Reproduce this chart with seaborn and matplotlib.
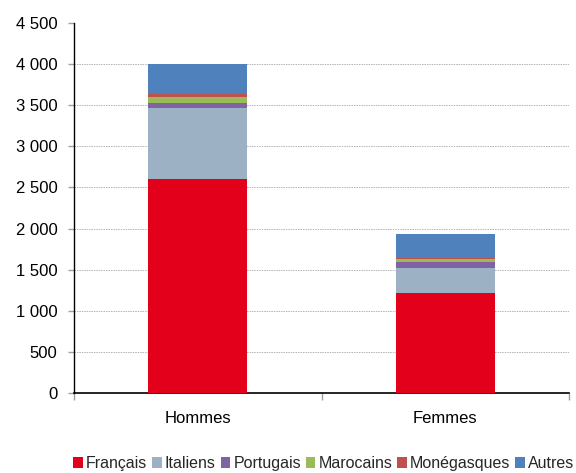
import matplotlib
matplotlib.use("Agg")
import matplotlib.pyplot as plt
import seaborn as sns
import numpy as np
import pandas as pd
from matplotlib.patches import Patch
from matplotlib.ticker import FixedLocator

categories = ["Hommes", "Femmes"]
series_names = ["Français", "Italiens", "Portugais", "Marocains", "Monégasques", "Autres"]
francais = [2606, 1217]
italiens = [865, 300]
portugais = [57, 77]
marocains = [76, 33]
monegasques = [33, 16]
autres = [363, 296]
y_ticks = [0, 500, 1000, 1500, 2000, 2500, 3000, 3500, 4000, 4500]
y_tick_labels = ["0", "500", "1 000", "1 500", "2 000", "2 500", "3 000", "3 500", "4 000", "4 500"]

colors = ["#E3001B", "#9CB2C4", "#8064A2", "#9BBB59", "#C0504D", "#4F81BD"]

sns.set_theme(style="white")
plt.rcParams["font.family"] = ["Liberation Sans", "DejaVu Sans"]

fig = plt.figure(figsize=(5.76, 4.73), dpi=100)
ax = fig.add_axes([74 / 576, 1 - 393 / 473, (569 - 74) / 576, (393 - 23) / 473])

series = [francais, italiens, portugais, marocains, monegasques, autres]
cum = np.cumsum(np.array(series), axis=0)

# draw from top layer down so lower layers overlay
for i in range(len(series) - 1, -1, -1):
    df = pd.DataFrame({"cat": categories, "val": cum[i]})
    sns.barplot(data=df, x="cat", y="val", color=colors[i], width=0.4,
                saturation=1, ax=ax, zorder=3, edgecolor="none", linewidth=0)

ax.set_xlim(-0.5, 1.5)
ax.set_ylim(0, 4500)
ax.yaxis.set_major_locator(FixedLocator(y_ticks))
ax.set_yticklabels(y_tick_labels)
ax.set_xlabel("")
ax.set_ylabel("")

for y in y_ticks[1:-1]:
    ax.axhline(y, color="#B4B4B4", linestyle=(0, (1.5, 1)), linewidth=0.7, zorder=1)

for side in ["top", "right"]:
    ax.spines[side].set_visible(False)
ax.spines["left"].set_color("black")
ax.spines["bottom"].set_color("black")
ax.spines["left"].set_linewidth(1.0)
ax.spines["bottom"].set_linewidth(1.2)

ax.tick_params(axis="y", which="major", left=True, length=4, width=1, color="#A0A0A0",
               labelsize=12, labelcolor="black", pad=8)
ax.tick_params(axis="x", which="major", bottom=False, labelsize=12, labelcolor="black", pad=7)
ax.set_xticks([0, 1])
ax.set_xticklabels(categories)
ax.set_xticks([-0.5, 0.5, 1.5], minor=True)
ax.tick_params(axis="x", which="minor", bottom=True, length=5, width=1, color="#A0A0A0")

handles = [Patch(facecolor=c, edgecolor="none", label=n) for c, n in zip(colors, series_names)]
fig.legend(handles=handles, loc="lower right", bbox_to_anchor=(0.997, 0.004), ncol=6,
           frameon=False, fontsize=11.5, handlelength=0.6, handleheight=0.6,
           handletextpad=0.2, columnspacing=0.3, borderaxespad=0, borderpad=0)

fig.savefig("out.png", dpi=100)
